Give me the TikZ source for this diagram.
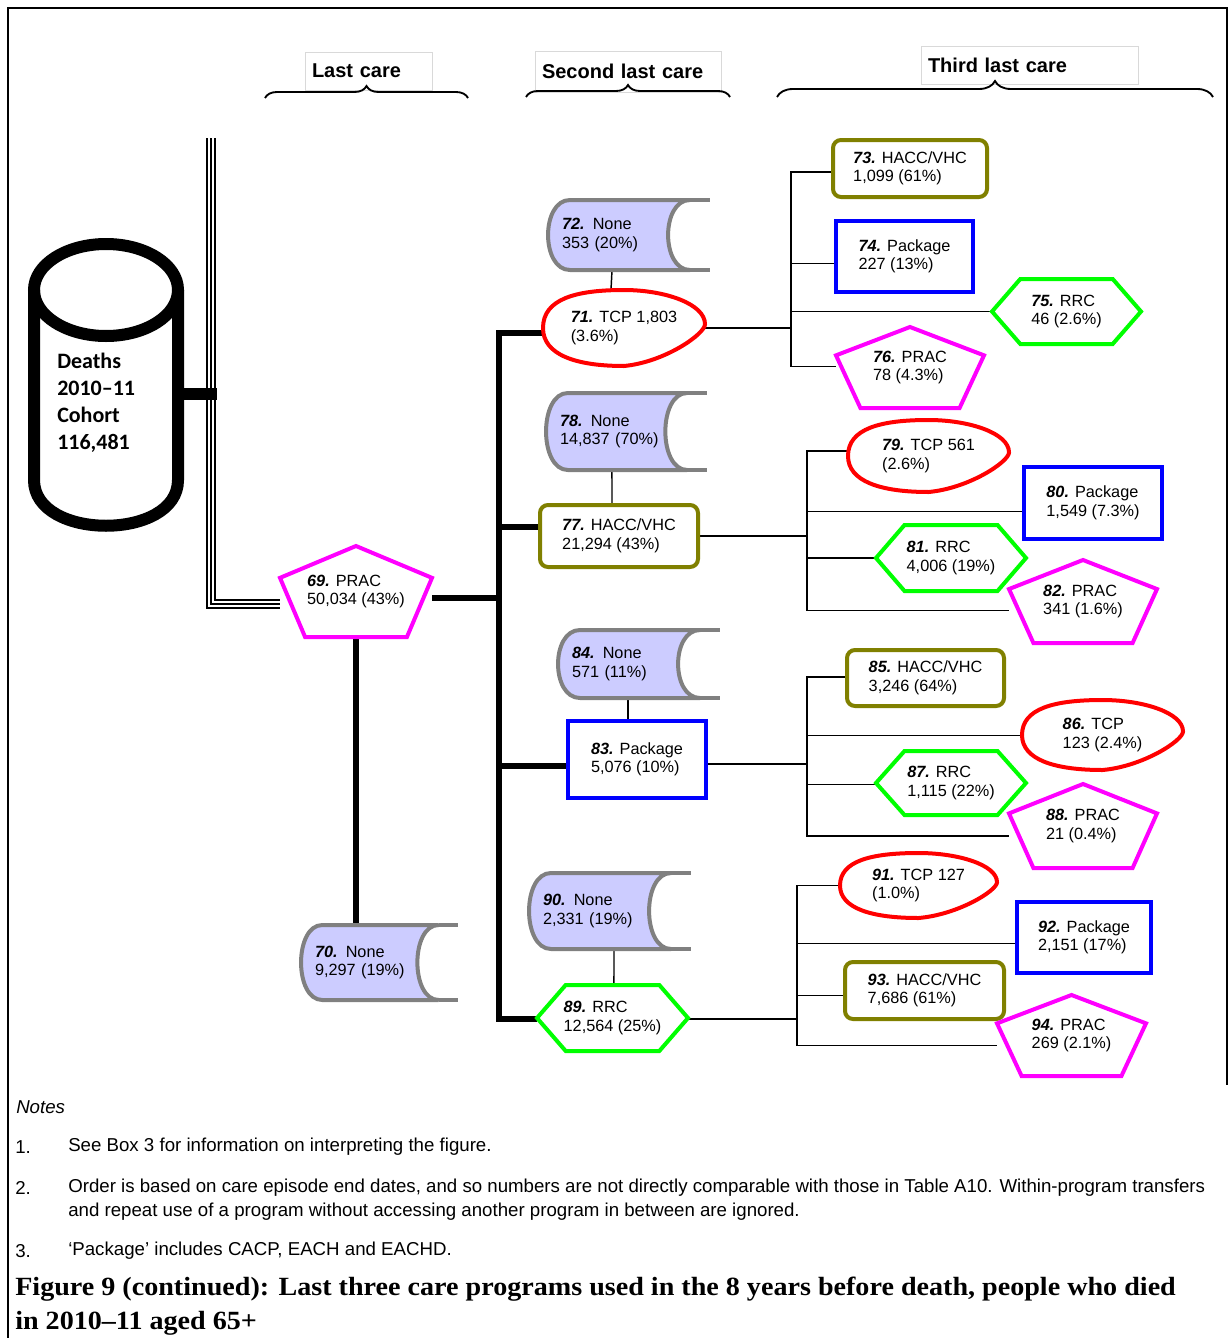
\documentclass[tikz,border=0pt]{standalone}
\usepackage{fontspec}
\setmainfont{Liberation Serif}
\setsansfont{Liberation Sans}
\newfontfamily\cylfont{Carlito}
\newfontfamily\capfont{Liberation Serif}[FakeStretch=1.07]
\usetikzlibrary{calc,backgrounds,decorations.pathreplacing}

\definecolor{pracmag}{RGB}{255,0,255}
\definecolor{rrcgreen}{RGB}{0,255,0}
\definecolor{tcpred}{RGB}{255,0,0}
\definecolor{haccolive}{RGB}{128,128,0}
\definecolor{pkgblue}{RGB}{0,0,255}
\definecolor{nonefill}{RGB}{204,204,255}
\definecolor{noneedge}{RGB}{128,128,128}

\newcommand\lblfont{\sffamily\fontsize{12.2}{13.9}\selectfont}
\newcommand\nr[1]{\textbf{\textit{#1.}}}

% box given by left, top, right, bottom (px)
\newcommand\getbox[4]{%
	\pgfmathsetmacro\ccx{(#1+#3)/2}\pgfmathsetmacro\ccy{(#2+#4)/2}%
	\pgfmathsetmacro\bw{(#3-#1)*0.75}\pgfmathsetmacro\bh{(#4-#2)*0.75}}

\tikzset{unitbox/.style={shift={(#1)}, x={(\bw pt,0pt)}, y={(0pt,-\bh pt)}}}

% name, left, top, right, bottom, text
\newcommand\pracnode[6]{\getbox{#2}{#3}{#4}{#5}
	\filldraw[pracline, unitbox={#2,#3}] (.5,0) -- (1,.35) -- (.835,1) -- (.165,1) -- (0,.35) -- cycle;
	\node[shapetext, minimum width=\bw pt, minimum height=\bh pt] (#1) at (\ccx,\ccy) {#6};}
\newcommand\rrcnode[6]{\getbox{#2}{#3}{#4}{#5}
	\filldraw[rrcline, unitbox={#2,#3}] (0,.5) -- (.19,0) -- (.81,0) -- (1,.5) -- (.81,1) -- (.19,1) -- cycle;
	\node[shapetext, minimum width=\bw pt, minimum height=\bh pt] (#1) at (\ccx,\ccy) {#6};}
\newcommand\tcpnode[6]{\getbox{#2}{#3}{#4}{#5}
	\filldraw[tcpline, unitbox={#2,#3}] (0,.5) .. controls (0,.12) and (.2,0) .. (.5,0)
		.. controls (.75,0) and (1,.18) .. (1,.45) .. controls (1,.58) and (.75,.95) .. (.5,1)
		.. controls (.2,1) and (0,.85) .. cycle;
	\node[shapetext, minimum width=\bw pt, minimum height=\bh pt] (#1) at (\ccx,\ccy) {#6};}
\newcommand\nonenode[6]{\getbox{#2}{#3}{#4}{#5}
	\filldraw[noneline, unitbox={#2,#3}] (.136,0) -- (.877,0) .. controls (.696,0) and (.696,1) .. (.877,1) -- (.136,1) .. controls (-.045,1) and (-.045,0) .. cycle;
	\draw[noneline, fill=none, unitbox={#2,#3}] (.877,0) -- (1,0) (.877,1) -- (1,1);
	\pgfmathsetmacro\tw{\bw-21}
	\node[shapetext, minimum width=\bw pt, minimum height=\bh pt, text width=\tw pt] (#1) at (\ccx,\ccy) {#6};}
\newcommand\haccnode[6]{\getbox{#2}{#3}{#4}{#5}
	\node[hacc, minimum width=\bw pt, minimum height=\bh pt] (#1) at (\ccx,\ccy) {#6};}
\newcommand\pkgnode[6]{\getbox{#2}{#3}{#4}{#5}
	\node[pkg, minimum width=\bw pt, minimum height=\bh pt] (#1) at (\ccx,\ccy) {#6};}
\newcommand\headnode[6]{\getbox{#2}{#3}{#4}{#5}
	\pgfmathsetmacro\tw{\bw-10.5}
	\node[headbox, minimum width=\bw pt, minimum height=\bh pt, text width=\tw pt] (#1) at (\ccx,\ccy) {#6};}

\begin{document}
\begin{tikzpicture}[x=0.75pt, y=-0.75pt,
	shapetext/.style={inner sep=0, align=left, font=\lblfont},
	pracline/.style={draw=pracmag, line width=3pt, fill=white},
	rrcline/.style={draw=rrcgreen, line width=3pt, fill=white},
	tcpline/.style={draw=tcpred, line width=3pt, fill=white},
	noneline/.style={draw=noneedge, line width=3pt, fill=nonefill},
	hacc/.style={shapetext, draw=haccolive, line width=3pt, rounded corners=6pt, fill=white},
	pkg/.style={shapetext, draw=pkgblue, line width=3pt, fill=white},
	headbox/.style={draw=black!15, line width=.6pt, inner xsep=5.25pt, inner ysep=0, align=left,
		font=\sffamily\bfseries\fontsize{15}{17}\selectfont},
	brc/.style={decorate, decoration={brace, amplitude=#1}, line width=1.4pt},
	thickc/.style={line width=3.8pt},
	thinc/.style={line width=1.1pt},
	triple/.style={line width=1.1pt, double, double distance=4.9pt},
	note/.style={inner sep=0, anchor=west, align=left, font=\sffamily\fontsize{14}{18}\selectfont}]
	\useasboundingbox (0,0) rectangle (1229,1338);
	
	% frame
	\draw[line width=1.5pt] (8,1338) -- (8,8) -- (1227,8) -- (1227,1085);
	
	% headings
	\headnode{h1}{305}{52}{432}{90}{Last care}
	\headnode{h2}{535}{51}{721}{92}{Second last care}
	\headnode{h3}{921}{46}{1138}{84}{Third last care}
	\draw[brc=9pt] (265,98) -- (468,98);
	\draw[brc=9pt] (526,97) -- (730,97);
	\draw[brc=12pt] (777,97) -- (1213,97);
	
	% cohort
	\draw[line width=9pt] (106,290) ellipse [x radius=72, y radius=46];
	\draw[line width=9pt] (34,290) -- (34,480) .. controls (34,541) and (178,541) .. (178,480) -- (178,290);
	\node[inner sep=0, anchor=west, align=left, font=\cylfont\bfseries\fontsize{16.5}{20.25}\selectfont]
		(cyl) at (57,402.5) {Deaths\\2010–11\\Cohort\\116,481};
	\coordinate (cyl-e) at (184,394);
	\coordinate (tt) at (211,138);
	\coordinate (tc) at (211,604);
	
	% last care
	\pracnode{n69}{280}{546}{432}{637}{\nr{69} PRAC\\50,034 (43\%)}
	\nonenode{n70}{301}{925}{458}{1000}{\nr{70} None\\9,297 (19\%)}
	
	% second last care
	\tcpnode{n71}{543}{290}{705}{366}{\nr{71} TCP 1,803\\(3.6\%)}
	\nonenode{n72}{548}{200}{710}{270}{\nr{72} None\\353 (20\%)}
	\haccnode{n77}{540}{505}{698}{567}{\nr{77} HACC/VHC\\21,294 (43\%)}
	\nonenode{n78}{546}{393}{707}{470}{\nr{78} None\\14,837 (70\%)}
	\pkgnode{n83}{568}{721}{706}{798}{\nr{83} Package\\5,076 (10\%)}
	\nonenode{n84}{558}{630}{720}{698}{\nr{84} None\\571 (11\%)}
	\rrcnode{n89}{537}{985}{688}{1051}{\nr{89} RRC\\12,564 (25\%)}
	\nonenode{n90}{529}{873}{691}{949}{\nr{90} None\\2,331 (19\%)}
	
	% third last care
	\haccnode{n73}{833}{140}{987}{197}{\nr{73} HACC/VHC\\1,099 (61\%)}
	\pkgnode{n74}{836}{221}{973}{292}{\nr{74} Package\\227 (13\%)}
	\rrcnode{n75}{992}{279}{1141}{344}{\nr{75} RRC\\46 (2.6\%)}
	\pracnode{n76}{836}{327}{984}{408}{\nr{76} PRAC\\78 (4.3\%)}
	\tcpnode{n79}{848}{420}{1009}{492}{\nr{79} TCP 561\\(2.6\%)}
	\pkgnode{n80}{1024}{467}{1162}{539}{\nr{80} Package\\1,549 (7.3\%)}
	\rrcnode{n81}{876}{525}{1026}{591}{\nr{81} RRC\\4,006 (19\%)}
	\pracnode{n82}{1009}{560}{1157}{643}{\nr{82} PRAC\\341 (1.6\%)}
	\haccnode{n85}{847}{650}{1004}{706}{\nr{85} HACC/VHC\\3,246 (64\%)}
	\tcpnode{n86}{1022}{700}{1183}{770}{\nr{86} TCP\\123 (2.4\%)}
	\rrcnode{n87}{876}{751}{1026}{815}{\nr{87} RRC\\1,115 (22\%)}
	\pracnode{n88}{1009}{784}{1157}{868}{\nr{88} PRAC\\21 (0.4\%)}
	\tcpnode{n91}{840}{853}{997}{918}{\nr{91} TCP 127\\(1.0\%)}
	\pkgnode{n92}{1017}{902}{1151}{973}{\nr{92} Package\\2,151 (17\%)}
	\haccnode{n93}{845}{962}{1004}{1019}{\nr{93} HACC/VHC\\7,686 (61\%)}
	\pracnode{n94}{997}{995}{1146}{1076}{\nr{94} PRAC\\269 (2.1\%)}
	
	% junctions
	\coordinate (s71) at (499,333);
	\coordinate (s77) at (499,527);
	\coordinate (s69) at (499,598);
	\coordinate (s83) at (499,766);
	\coordinate (s89) at (499,1019);
	\coordinate (jA) at (791,328);
	\coordinate (jB) at (807,536);
	\coordinate (jC) at (807,764);
	\coordinate (jD) at (797,1019);
	
	\begin{scope}[on background layer]
		\draw[triple] (tt) -- (tc) -- (tc -| n69.west);
		\draw[thinc] (tt) -- (tc) -- (tc -| n69.west);
		\draw[line width=9pt] (cyl-e) -- ($(cyl-e -| tt)+(6,0)$);
		
		\draw[thickc] (s71 -| n71.west) -- (s71) -- (s89) -- (s89 -| n89.west);
		\draw[thickc] (s69 -| n69.east) -- (s69);
		\draw[thickc] (s77) -- (s77 -| n77.west);
		\draw[thickc] (s83) -- (s83 -| n83.west);
		\draw[thickc] (n69.south) -- (n69.south |- n70.north);
		
		\draw[thinc] ([xshift=-12.75pt]n72.south) -- ([xshift=-9.75pt]n71.north);
		\draw[thinc] ([xshift=-10.9pt]n78.south) -- ([xshift=-5.25pt]n77.north);
		\draw[thinc] ([xshift=-8.25pt]n84.south) -- ([xshift=-6.75pt]n83.north);
		\draw[thinc] ([xshift=3pt]n90.south) -- ([xshift=1.1pt]n89.north);
		
		\draw[thinc] (n71.east) -- (jA);
		\foreach \c/\f in {n73/.56, n74/.59, n75/.5, n76/.49}
			\draw[thinc] ($(\c.north west)!\f!(\c.south west)$) -| (jA);
		\draw[thinc] (jB -| n77.east) -- (jB);
		\foreach \c/\f in {n79/.43, n80/.61, n81/.5, n82/.61}
			\draw[thinc] ($(\c.north west)!\f!(\c.south west)$) -| (jB);
		\draw[thinc] (jC -| n83.east) -- (jC);
		\foreach \c/\f in {n85/.48, n86/.51, n87/.52, n88/.62}
			\draw[thinc] ($(\c.north west)!\f!(\c.south west)$) -| (jC);
		\draw[thinc] (jD -| n89.east) -- (jD);
		\foreach \c/\f in {n91/.5, n92/.58, n93/.58, n94/.62}
			\draw[thinc] ($(\c.north west)!\f!(\c.south west)$) -| (jD);
	\end{scope}
	
	% notes
	\node[note] (notes) at (16,1107) {\textit{Notes}};
	\node[note] (k1) at (15,1147) {1.};
	\node[note] (t1) at (68,1147) {See Box 3 for information on interpreting the figure.};
	\node[note] (k2) at (15,1188) {2.};
	\node[note] (t2) at (68,1200) {Order is based on care episode end dates, and so numbers are not directly comparable with those in Table A10. Within-program transfers\\and repeat use of a program without accessing another program in between are ignored.};
	\node[note] (k3) at (15,1251) {3.};
	\node[note] (t3) at (68,1251) {‘Package’ includes CACP, EACH and EACHD.};
	\node[inner sep=0, anchor=west, align=left, font=\capfont\bfseries\fontsize{19.7}{25.5}\selectfont]
		(caption) at (15,1306) {Figure 9 (continued): Last three care programs used in the 8 years before death, people who died\\in 2010–11 aged 65+};
\end{tikzpicture}
\end{document}
